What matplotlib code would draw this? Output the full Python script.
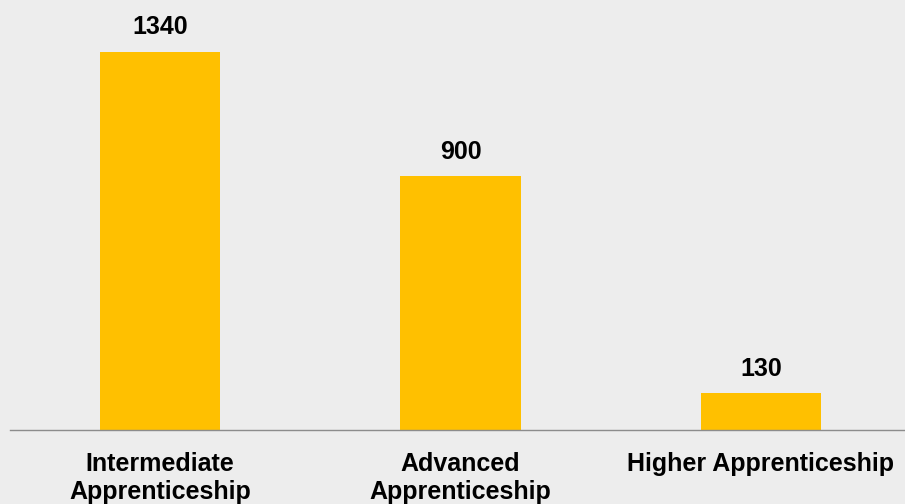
import matplotlib.pyplot as plt

categories = ["Intermediate\nApprenticeship", "Advanced\nApprenticeship", "Higher Apprenticeship"]
values = [1340, 900, 130]

bg = "#EDEDED"
fig = plt.figure(figsize=(9.05, 5.04), dpi=100, facecolor=bg)
ax = fig.add_axes([10 / 905, 74 / 504, 895 / 905, 430 / 504])
ax.set_facecolor(bg)

x = range(len(categories))
bars = ax.bar(x, values, width=0.4, color="#FFC000")

ax.set_xlim(-0.5, 2.48)
ax.set_ylim(0, 1524)

for rect, v in zip(bars, values):
    ax.annotate(str(v), (rect.get_x() + rect.get_width() / 2, v),
                xytext=(0, 9), textcoords="offset points",
                ha="center", va="bottom", fontsize=18, fontweight="bold",
                family="Liberation Sans")

ax.set_xticks(list(x))
ax.set_xticklabels(categories, fontsize=18, fontweight="bold",
                   family="Liberation Sans", linespacing=1.2)
ax.tick_params(axis="x", length=0, pad=16)
ax.set_yticks([])

for side in ["top", "right", "left"]:
    ax.spines[side].set_visible(False)
ax.spines["bottom"].set_color("#8C8C8C")
ax.spines["bottom"].set_linewidth(1)

fig.savefig("out.png", dpi=100, facecolor=bg)
